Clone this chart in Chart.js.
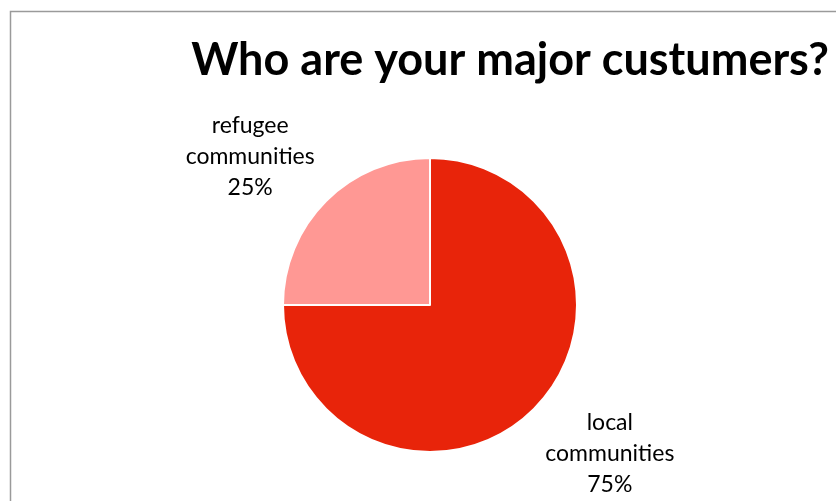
<!DOCTYPE html>
<html>
<head>
<meta charset="utf-8">
<script src="https://cdn.jsdelivr.net/npm/chart.js@4"></script>
<style>
  html, body { margin: 0; padding: 0; background: #fff; }
  #wrap { width: 836px; height: 501px; position: relative; }
</style>
</head>
<body>
<div id="wrap"><canvas id="pie_clients"></canvas></div>
<script>
const titre = 'Who are your major custumers?';
const categories = ['local communities', 'refugee communities'];
const valeurs = [75, 25];
const couleurs = ['#E8240A', '#FF9894'];

// frame + title, drawn behind the pie
const cadre = {
    id: 'cadre',
    beforeDraw(chart) {
        const c = chart.ctx;
        c.save();
        c.fillStyle = '#fff';
        c.fillRect(0, 0, chart.width, chart.height);
        c.strokeStyle = '#9a9a9a';
        c.lineWidth = 1.5;
        c.beginPath();
        c.moveTo(10.5, chart.height);
        c.lineTo(10.5, 11.5);
        c.lineTo(chart.width, 11.5);
        c.stroke();
        c.fillStyle = '#000';
        c.font = 'bold 45px Lato';
        c.textAlign = 'center';
        c.textBaseline = 'alphabetic';
        c.fillText(titre, 510, 75);
        c.restore();
    }
};

// category name + percent outside each slice
const etiquettes = {
    id: 'etiquettes',
    afterDatasetsDraw(chart) {
        const c = chart.ctx;
        const total = valeurs.reduce((a, b) => a + b, 0);
        c.save();
        c.fillStyle = '#000';
        c.font = '23px Lato';
        c.textAlign = 'center';
        c.textBaseline = 'middle';
        chart.getDatasetMeta(0).data.forEach((arc, i) => {
            const p = arc.getProps(['x', 'y', 'startAngle', 'endAngle', 'outerRadius']);
            const a = (p.startAngle + p.endAngle) / 2;
            const x = p.x + Math.cos(a) * p.outerRadius * 1.73;
            const y = p.y + Math.sin(a) * p.outerRadius * 1.43;
            const mots = categories[i].split(' ');
            const lignes = [mots[0], mots.slice(1).join(' '), Math.round(valeurs[i] / total * 100) + '%'];
            lignes.forEach((l, k) => c.fillText(l, x, y + (k - 1) * 31));
        });
        c.restore();
    }
};

const ctx = document.getElementById('pie_clients');

const graph_clients = new Chart(ctx, {
    type: 'pie',
    data: {
        labels: categories,
        datasets: [{
            data: valeurs,
            backgroundColor: couleurs,
            borderColor: '#fff',
            borderWidth: 2
        }]
    },
    options: {
        responsive: true,
        maintainAspectRatio: false,
        animation: false,
        layout: {
            padding: { left: 282, right: 258, top: 157, bottom: 48 }
        },
        plugins: {
            legend: { display: false },
            tooltip: { enabled: false }
        }
    },
    plugins: [cadre, etiquettes]
});
</script>
</body>
</html>
